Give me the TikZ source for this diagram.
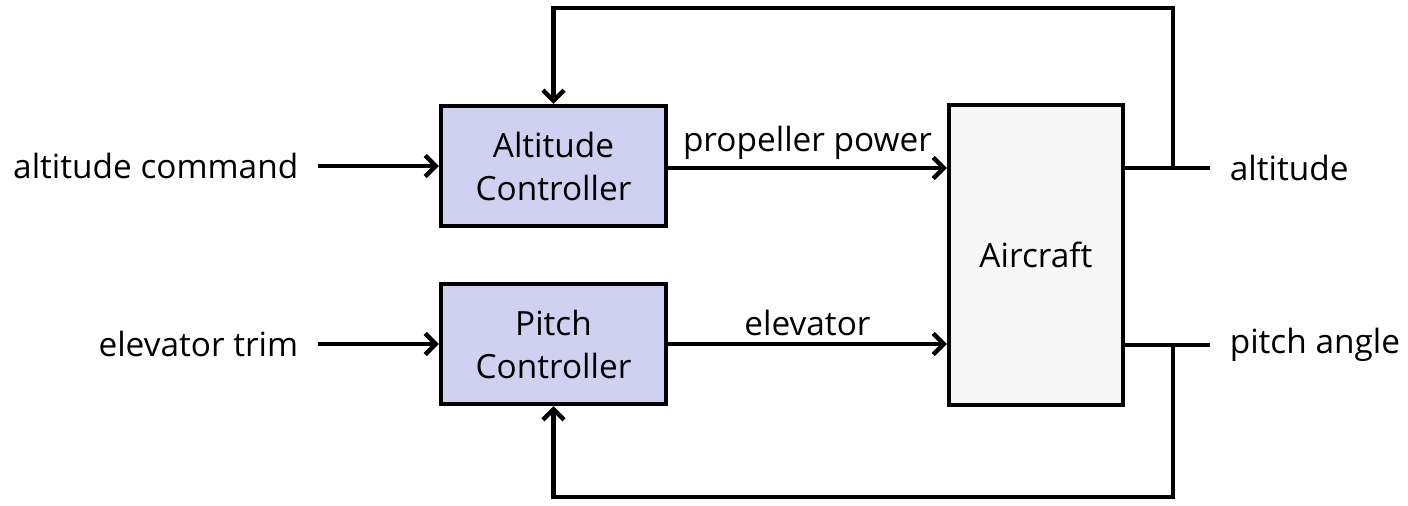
\documentclass[tikz,border=0pt]{standalone}
\usepackage{fontspec}
\setmainfont{Open Sans}
\usetikzlibrary{positioning,arrows.meta}
\definecolor{ctlfill}{RGB}{208,208,240}
\definecolor{plantfill}{RGB}{247,247,247}
\newcommand{\lbl}{\fontsize{19}{24.5}\selectfont}

\begin{document}
\begin{tikzpicture}[x=0.02cm, y=-0.02cm, >={Straight Barb[length=6pt,width=12pt]},
	line width=2.5pt, font=\lbl,
	block/.style={draw, line width=2.5pt, align=center, inner sep=0pt},
	ctl/.style={block, fill=ctlfill, minimum width=4.5cm, minimum height=2.4cm},
	sig/.style={inner xsep=10pt, inner ysep=2pt}]
	\useasboundingbox (0,0) rectangle (1408,505);
	% controllers and plant
	\node[ctl] (altctl) at (553.5,166) {Altitude\\Controller};
	\node[ctl] (pitchctl) at (553.5,344) {Pitch\\Controller};
	\node[block, fill=plantfill, minimum width=3.48cm, minimum height=6cm] (aircraft) at (1036,255) {Aircraft};
	% inputs
	\node[sig, anchor=east] (altcmd) at (318,166) {altitude command};
	\node[sig, anchor=east] (trim) at (318,344) {elevator trim};
	\draw[->] (altcmd) -- (altctl);
	\draw[->] (trim) -- (pitchctl);
	% actuator signals
	\draw[->] (altctl.east |- 0,168) -- node[above] {propeller power} (aircraft.west |- 0,168);
	\draw[->] (pitchctl.east) -- node[above] {elevator} (aircraft.west |- pitchctl.east);
	% outputs
	\node[sig, anchor=west] (alt) at (1210,168) {altitude};
	\node[sig, anchor=west] (pitch) at (1210,345) {pitch angle};
	\draw (aircraft.east |- alt.west) -- (alt.west);
	\draw (aircraft.east |- pitch.west) -- (pitch.west);
	% feedback
	\coordinate (tapalt) at (1173,168);
	\coordinate (tappitch) at (1173,345);
	\draw[->] (tapalt) -- ++(0,-160) -| (altctl.north);
	\draw[->] (tappitch) -- ++(0,152) -| (pitchctl.south);
\end{tikzpicture}
\end{document}
